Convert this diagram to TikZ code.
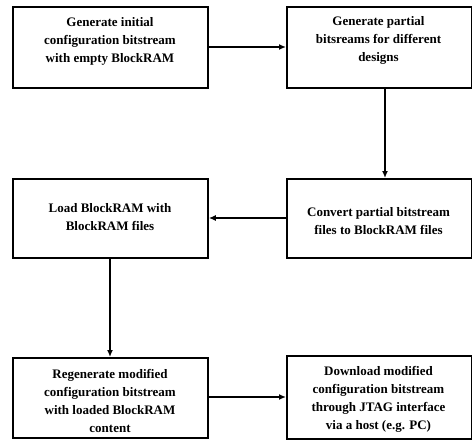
\documentclass[tikz,border=0pt]{standalone}
\usepackage{fontspec}
\setmainfont{Liberation Serif}
\usetikzlibrary{arrows.meta}
\begin{document}
\begin{tikzpicture}[x=1pt,y=-1pt,
  box/.style={draw,line width=1.8pt,inner sep=0pt,anchor=north west},
  txt/.style={align=center,inner sep=0pt,font=\bfseries\fontsize{13}{18}\selectfont},
  conn/.style={line width=2pt,-{Latex[length=7pt,width=6pt]}}]
\useasboundingbox (0,0) rectangle (472,440);
\node[box,minimum width=195pt,minimum height=81pt] (a) at (12,6) {};
\node[txt] (ta) at (110,41.5) {Generate initial\\configuration bitstream\\with empty BlockRAM};
\node[box,minimum width=185pt,minimum height=81pt] (b) at (286,6) {};
\node[txt] (tb) at (378.5,40.5) {Generate partial\\bitsreams for different\\designs};
\node[box,minimum width=185pt,minimum height=79pt] (c) at (286,178) {};
\node[txt] (tc) at (378.5,221.3) {Convert partial bitstream\\files to BlockRAM files};
\node[box,minimum width=195pt,minimum height=79pt] (d) at (12,178) {};
\node[txt] (td) at (110,217.3) {Load BlockRAM with\\BlockRAM files};
\node[box,minimum width=195pt,minimum height=80pt] (e) at (12,357) {};
\node[txt] (te) at (110,400.5) {Regenerate modified\\configuration bitstream\\with loaded BlockRAM\\content};
\node[box,minimum width=185pt,minimum height=83pt] (f) at (286,355) {};
\node[txt] (tf) at (378.5,399) {Download modified\\configuration bitstream\\through JTAG interface\\via a host (e.g. PC)};
\draw[conn] (a.east |- 0,47) -- (b.west |- 0,47);
\draw[conn] (b.south -| 385,0) -- (c.north -| 385,0);
\draw[conn] (c.west |- 0,218) -- (d.east |- 0,218);
\draw[conn] (d.south -| 110,0) -- (e.north -| 110,0);
\draw[conn] (e.east |- 0,397) -- (f.west |- 0,397);
\end{tikzpicture}
\end{document}
